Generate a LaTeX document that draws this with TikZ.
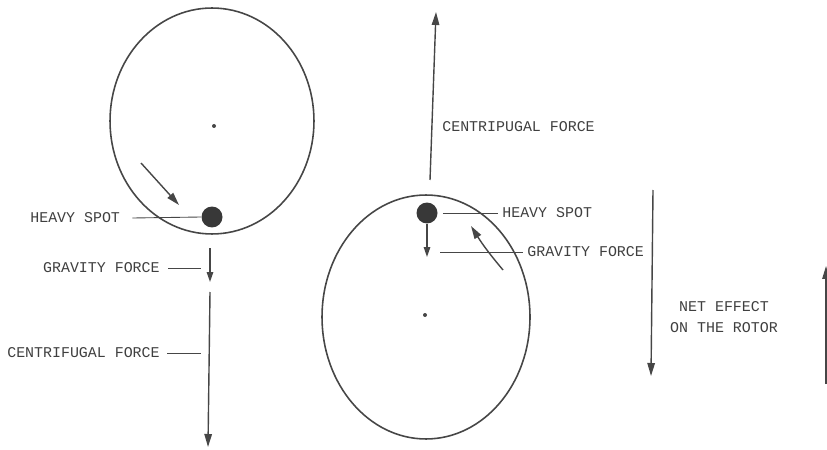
\documentclass[tikz,border=0pt]{standalone}
\usepackage{fontspec}
\setmonofont{Liberation Mono}
\usetikzlibrary{arrows.meta,positioning}
\definecolor{ink}{RGB}{70,70,70}
\tikzset{
  rotor/.style={draw=ink,line width=0.9pt},
  spot/.style={circle,fill=ink!80!black,minimum size=4.2mm,inner sep=0pt},
  hub/.style={circle,fill=ink,minimum size=0.8mm,inner sep=0pt},
  force/.style={draw=ink,line width=0.8pt,-{Triangle[length=2.6mm,width=1.5mm]}},
  small force/.style={draw=ink,line width=0.8pt,-{Triangle[length=2mm,width=1.3mm]}},
  leader/.style={draw=ink,line width=0.5pt},
  lbl/.style={text=ink!90!black,font=\ttfamily\fontsize{8.5}{11.5}\selectfont,inner sep=0pt,align=center}
}

\begin{document}
\begin{tikzpicture}[x=0.02cm,y=-0.02cm]
\useasboundingbox (0,0) rectangle (827,449);

% left rotor, heavy spot at the bottom
\draw[rotor] (212,121) ellipse [x radius=2.04cm,y radius=2.26cm];
\node[hub] (hubL) at (214,126) {};
\node[spot] (hsL) at (212,217) {};
\coordinate (rotL1) at (141,163);
\coordinate (rotL2) at (179,205);
\draw[force] (rotL1) -- (rotL2);

\node[lbl,anchor=west] (hsLlbl) at (30,218) {HEAVY SPOT};
\draw[leader] (hsLlbl.east) ++(12,0) -- (hsL.west);

\coordinate (gL1) at (210,248);
\coordinate (gL2) at (210,282);
\draw[small force] (gL1) -- (gL2);
\node[lbl,anchor=east] (gLlbl) at (160,268) {GRAVITY FORCE};
\draw[leader] (gLlbl.east) ++(8,0) -- ([xshift=-0.18cm]gL1 |- gLlbl.east);

\coordinate (cL1) at (210,292);
\coordinate (cL2) at (208,447);
\draw[force] (cL1) -- (cL2);
\node[lbl,anchor=east] (cLlbl) at (160,353) {CENTRIFUGAL FORCE};
\draw[leader] (cLlbl.east) ++(7,0) -- ([xshift=-0.18cm]cL1 |- cLlbl.east);

% right rotor, heavy spot at the top
\draw[rotor] (426,317) ellipse [x radius=2.08cm,y radius=2.44cm];
\node[hub] (hubR) at (425,315) {};
\node[spot] (hsR) at (427,213) {};
\coordinate (rotR1) at (503,270);
\coordinate (rotR2) at (471,226);
\draw[force] (rotR1) to[bend left=4] (rotR2);

\node[lbl,anchor=west] (hsRlbl) at (502,213) {HEAVY SPOT};
\draw[leader] (hsR.east) ++(0.1cm,0) -- ([xshift=-0.08cm]hsRlbl.west);

\coordinate (gR1) at (427,224);
\coordinate (gR2) at (427,257);
\draw[small force] (gR1) -- (gR2);
\node[lbl,anchor=west] (gRlbl) at (527,252) {GRAVITY FORCE};
\draw[leader] ([xshift=0.26cm]gR1 |- gRlbl.west) -- ([xshift=-0.08cm]gRlbl.west);

\coordinate (cR1) at (430,180);
\coordinate (cR2) at (436,12);
\draw[force] (cR1) -- (cR2);
\node[lbl,anchor=west] (cRlbl) at (442,127) {CENTRIPUGAL FORCE};

% net effect
\coordinate (net1) at (653,190);
\coordinate (net2) at (651,376);
\draw[force] (net1) -- (net2);
\node[lbl] (netlbl) at (724,317) {NET EFFECT\\ON THE ROTOR};

\coordinate (edge1) at (826,384);
\coordinate (edge2) at (826,266);
\draw[force] (edge1) -- (edge2);

\end{tikzpicture}
\end{document}
